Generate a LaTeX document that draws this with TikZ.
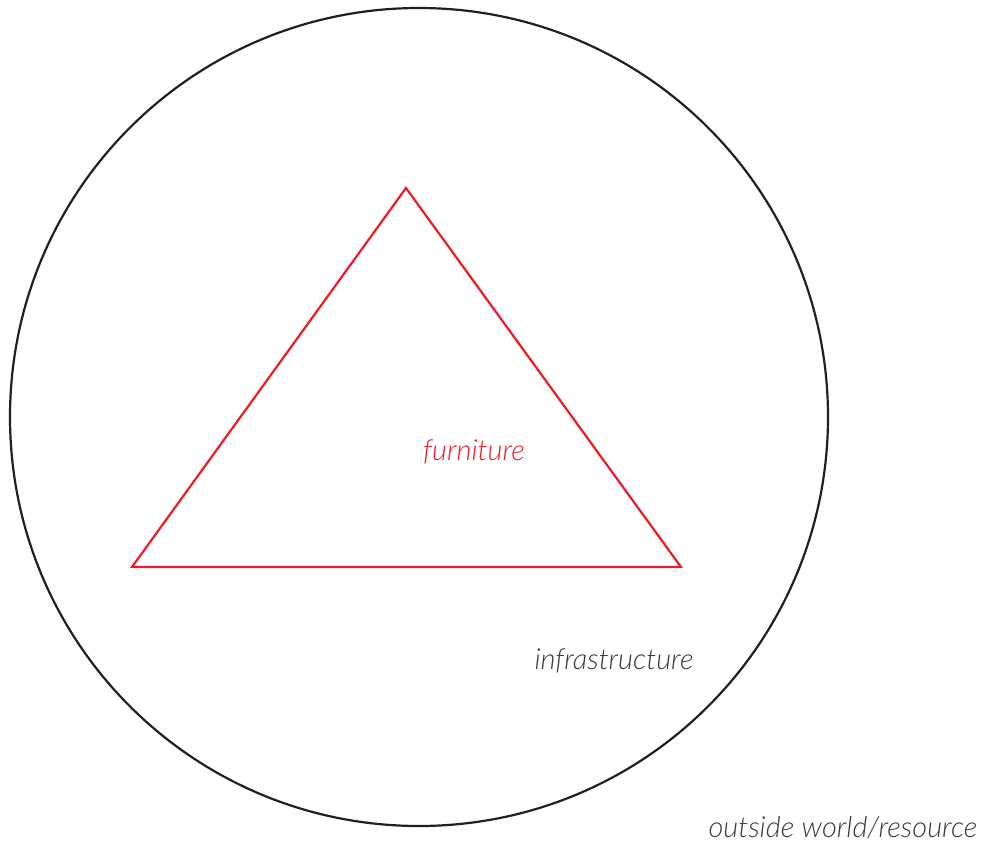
\documentclass[tikz,border=0pt]{standalone}
\usepackage{fontspec}
\setmainfont{Lato}[ItalicFont={Lato Light Italic}]
\usepackage{tikz}
\usetikzlibrary{positioning}
\definecolor{Ink}{HTML}{231F20}
\definecolor{Furn}{HTML}{ED1C24}
\definecolor{Grey}{HTML}{3A3A3A}

\begin{document}
\begin{tikzpicture}[x=1pt,y=-1pt,
    label text/.style={font=\fontsize{29}{34}\selectfont\itshape,inner sep=0pt}]
  \useasboundingbox (0,0) rectangle (985,843);
  % outer ring and inner triangle
  \draw[Ink,line width=2.2pt] (419,417) circle[radius=409];
  \draw[Furn,line width=2.2pt] (406,188) -- (681,567) -- (132,567) -- cycle;
  % texts
  \node[label text,text=Furn] (furniture) at (474,452) {furniture};
  \node[label text,text=Grey] (infra) at (614,661) {infrastructure};
  \node[label text,text=Grey] (outside) at (843,828) {outside world/resource};
\end{tikzpicture}
\end{document}
